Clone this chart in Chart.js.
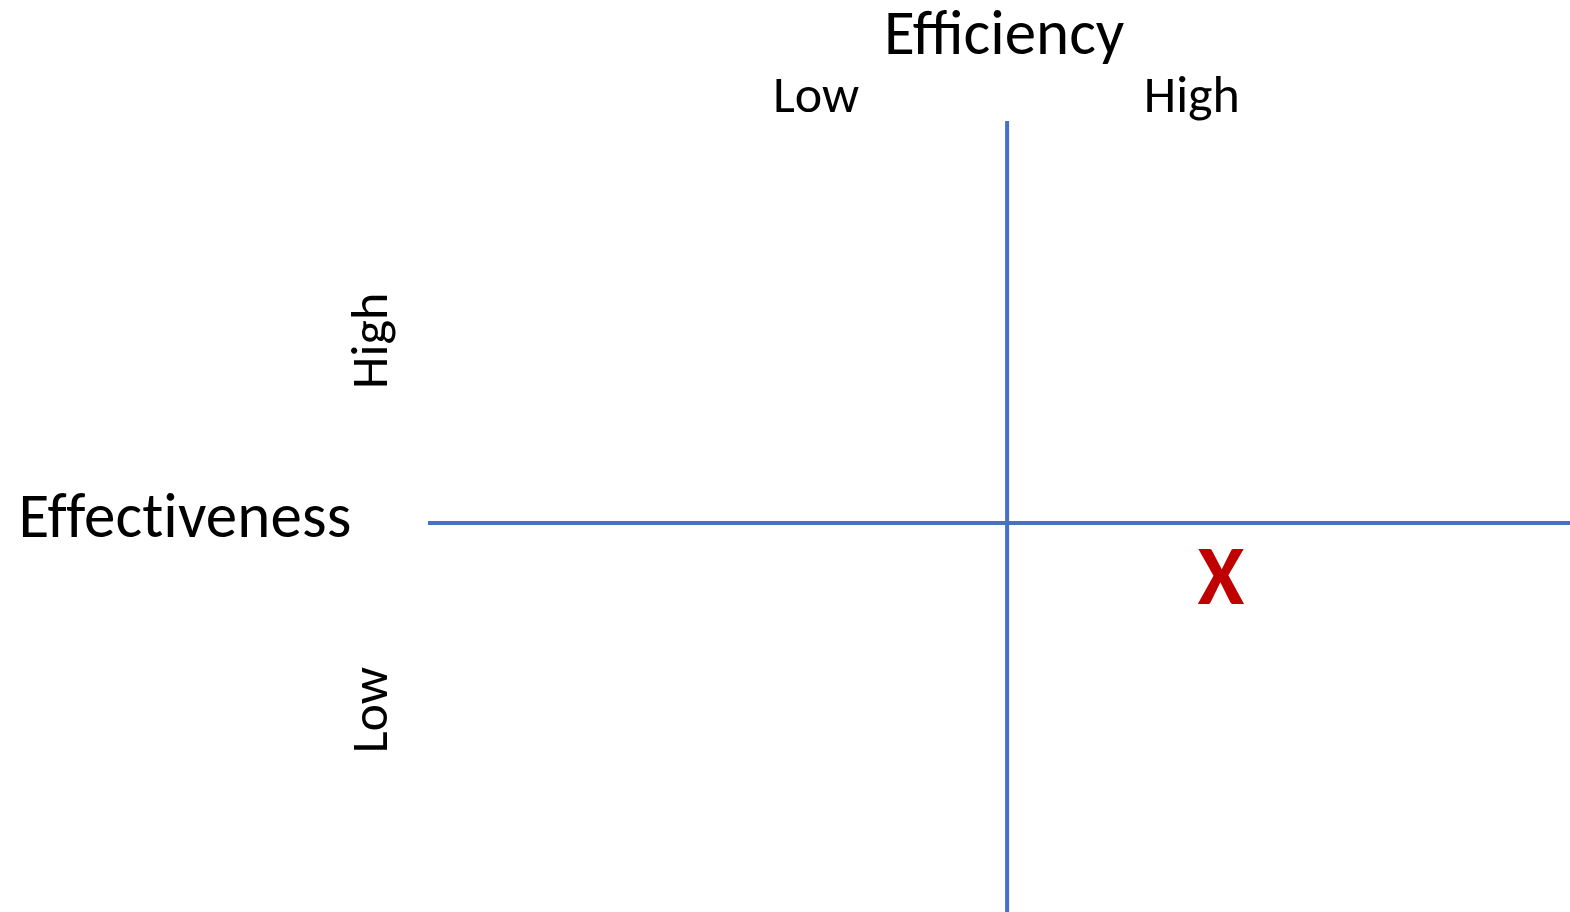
<!DOCTYPE html>
<html>
<head>
<meta charset="utf-8">
<script src="https://cdn.jsdelivr.net/npm/chart.js@4"></script>
<style>
  html, body { margin: 0; padding: 0; background: #ffffff; }
  canvas { display: block; }
</style>
</head>
<body>
<canvas id="c" width="1570" height="912"></canvas>
<script>
// ---- Data ----
const xAxisTitle = 'Efficiency';
const yAxisTitle = 'Effectiveness';
const xTickLabels = ['Low', 'High'];
const xTickValues = [-0.33, 0.319];
const yTickLabels = ['High', 'Low'];
const yTickValues = [0.453, -0.466];
const markerLabels = ['X'];
const markerX = [0.369];
const markerY = [-0.15];
const xRange = [-1, 0.972];
const yRange = [-0.968, 1];

// ---- Styles ----
const AXIS_COLOR = '#4472C4';
const MARK_COLOR = '#C00000';
const FONT = 'Carlito, Calibri, "Open Sans", Lato, sans-serif';

const textPlugin = {
  id: 'quadText',
  afterDatasetsDraw(chart) {
    const ctx = chart.ctx;
    const xs = chart.scales.x, ys = chart.scales.y;
    const area = chart.chartArea;
    ctx.save();
    ctx.fillStyle = '#000000';
    ctx.textAlign = 'center';
    ctx.textBaseline = 'alphabetic';

    // x axis title
    ctx.font = '63px ' + FONT;
    ctx.fillText(xAxisTitle, xs.getPixelForValue(0) - 3, area.top - 67);

    // x tick labels
    ctx.font = '52px ' + FONT;
    xTickLabels.forEach((t, i) => {
      ctx.fillText(t, xs.getPixelForValue(xTickValues[i]), area.top - 9);
    });

    // y axis title (horizontal)
    ctx.save();
    ctx.font = '63px ' + FONT;
    if ('letterSpacing' in ctx) ctx.letterSpacing = '0.1px';
    ctx.fillText(yAxisTitle, 185, ys.getPixelForValue(0) + 14);
    ctx.restore();

    // y tick labels (rotated)
    ctx.font = '52px ' + FONT;
    yTickLabels.forEach((t, i) => {
      ctx.save();
      ctx.translate(area.left - 41, ys.getPixelForValue(yTickValues[i]));
      ctx.rotate(-Math.PI / 2);
      ctx.fillText(t, 0, 0);
      ctx.restore();
    });

    // marker
    ctx.fillStyle = MARK_COLOR;
    ctx.font = 'bold 85px ' + FONT;
    ctx.textBaseline = 'middle';
    markerLabels.forEach((t, i) => {
      ctx.fillText(t, xs.getPixelForValue(markerX[i]), ys.getPixelForValue(markerY[i]));
    });
    ctx.restore();
  }
};

new Chart(document.getElementById('c'), {
  type: 'scatter',
  data: {
    datasets: [
      {
        data: [{x: 0, y: yRange[0]}, {x: 0, y: yRange[1]}],
        showLine: true, borderColor: AXIS_COLOR, borderWidth: 4,
        pointRadius: 0, borderCapStyle: 'butt'
      },
      {
        data: [{x: xRange[0], y: 0}, {x: xRange[1], y: 0}],
        showLine: true, borderColor: AXIS_COLOR, borderWidth: 4,
        pointRadius: 0, borderCapStyle: 'butt'
      },
      {
        data: markerX.map((v, i) => ({x: v, y: markerY[i]})),
        pointRadius: 0
      }
    ]
  },
  options: {
    responsive: false,
    animation: false,
    devicePixelRatio: 1,
    layout: { padding: { left: 428, right: 0, top: 121, bottom: 0 } },
    plugins: { legend: { display: false }, tooltip: { enabled: false } },
    scales: {
      x: { type: 'linear', min: xRange[0], max: xRange[1], display: false },
      y: { type: 'linear', min: yRange[0], max: yRange[1], display: false }
    }
  },
  plugins: [textPlugin]
});
</script>
</body>
</html>
